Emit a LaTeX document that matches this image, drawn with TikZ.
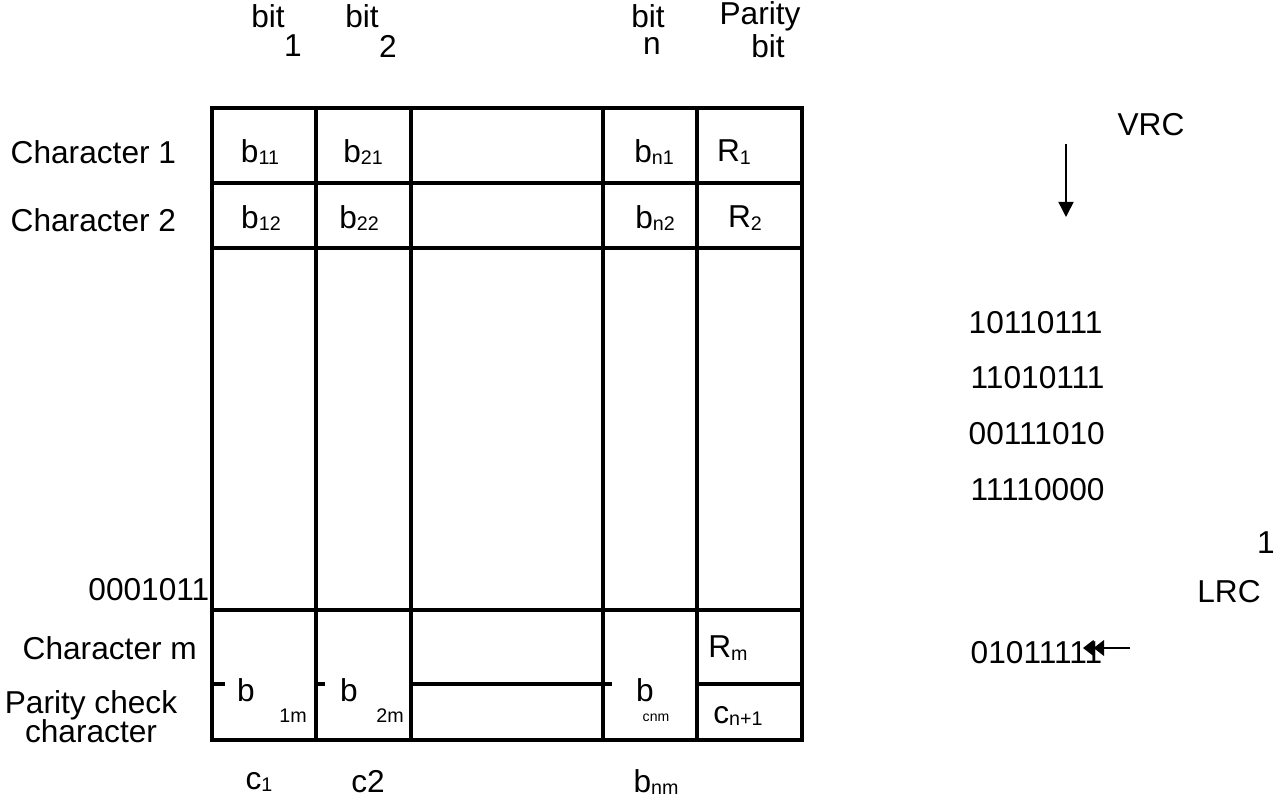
\documentclass[tikz,border=0pt]{standalone}
\usepackage{fontspec}
\setmainfont{Liberation Sans}
\usetikzlibrary{arrows.meta}
\newcommand{\lo}[1]{\raisebox{-0.15ex}{\fontsize{5.6}{6}\selectfont #1}}
\begin{document}
\begin{tikzpicture}[x=0.01cm, y=-0.01cm,
    every node/.style={font=\fontsize{9}{10}\selectfont, inner sep=0pt},
    grid/.style={line width=1pt},
    tiny/.style={font=\fontsize{5.6}{6}\selectfont},
    tinier/.style={font=\fontsize{4}{5}\selectfont},
    arrow/.style={line width=0.45pt, -{Triangle[width=4.3pt,length=4.3pt]}},
    dblarrow/.style={line width=0.45pt, -{Triangle[width=4.5pt,length=3pt] Triangle[width=4.5pt,length=3pt]}}
]
\useasboundingbox (0,0) rectangle (1285,804);

% Column heads
\node (bit1) at (268,16) {bit};
\node (num1) at (293,46) {1};
\node (bit2) at (362,16) {bit};
\node (num2) at (388,46) {2};
\node (bitn) at (648,16) {bit};
\node (numn) at (652,46) {n};
\node (par) at (760,16) {Parity};
\node (parbit) at (768,46) {bit};

% Table
\draw[grid] (212,108) rectangle (802,740);
\foreach \x in {316,411,603,697}
    \draw[grid] (\x,108) -- (\x,740);
\foreach \y in {183,248,610}
    \draw[grid] (212,\y) -- (802,\y);
\draw[grid] (212,684) -- (225,684);
\draw[grid] (316,684) -- (325,684);
\draw[grid] (411,684) -- (612,684);
\draw[grid] (697,684) -- (802,684);

% Row labels
\node[anchor=west] (ch1) at (10,152) {Character 1};
\node[anchor=west] (ch2) at (10,220) {Character 2};
\node[anchor=east] (extra) at (210,590) {0001011};
\node[anchor=west] (chm) at (22,648) {Character m};
\node (pc1) at (91,705) {Parity check};
\node (pc2) at (91,731) {character};

% Cells
\node (b11) at (260,152) {b\lo{11}};
\node (b21) at (363,152) {b\lo{21}};
\node (bn1) at (654,152) {b\lo{n1}};
\node (r1) at (734,152) {R\lo{1}};
\node (b12) at (261,218) {b\lo{12}};
\node (b22) at (359,218) {b\lo{22}};
\node (bn2) at (655,218) {b\lo{n2}};
\node (r2) at (745,218) {R\lo{2}};
\node (rm) at (728,648) {R\lo{m}};
\node (b1m) at (246,690) {b};
\node[tiny] (s1m) at (293,716) {1m};
\node (b2m) at (349,690) {b};
\node[tiny] (s2m) at (390,716) {2m};
\node (bcnm) at (645,690) {b};
\node[tinier] (scnm) at (656,718) {cnm};
\node (cn1) at (738,716) {c\lo{n+1}};

% Bottom labels
\node (c1) at (259,782) {c\lo{1}};
\node (c2) at (368,782) {c2};
\node (bnm) at (656,782) {b\lo{nm}};

% VRC / LRC
\node (vrc) at (1151,125) {VRC};
\coordinate (vtop) at (1066,144);
\coordinate (vbot) at (1066,217);
\draw[arrow] (vtop) -- (vbot);
\node[anchor=west] (w1) at (968,323) {10110111};
\node[anchor=west] (w2) at (970,378) {11010111};
\node[anchor=west] (w3) at (968,434) {00111010};
\node[anchor=west] (w4) at (970,490) {11110000};
\node (one) at (1266,543) {1};
\node (lrc) at (1229,592) {LRC};
\node[anchor=west] (lrcw) at (970,653) {01011111};
\coordinate (lstart) at (1130,648);
\coordinate (lend) at (1083,648);
\draw[dblarrow] (lstart) -- (lend);

\end{tikzpicture}
\end{document}
